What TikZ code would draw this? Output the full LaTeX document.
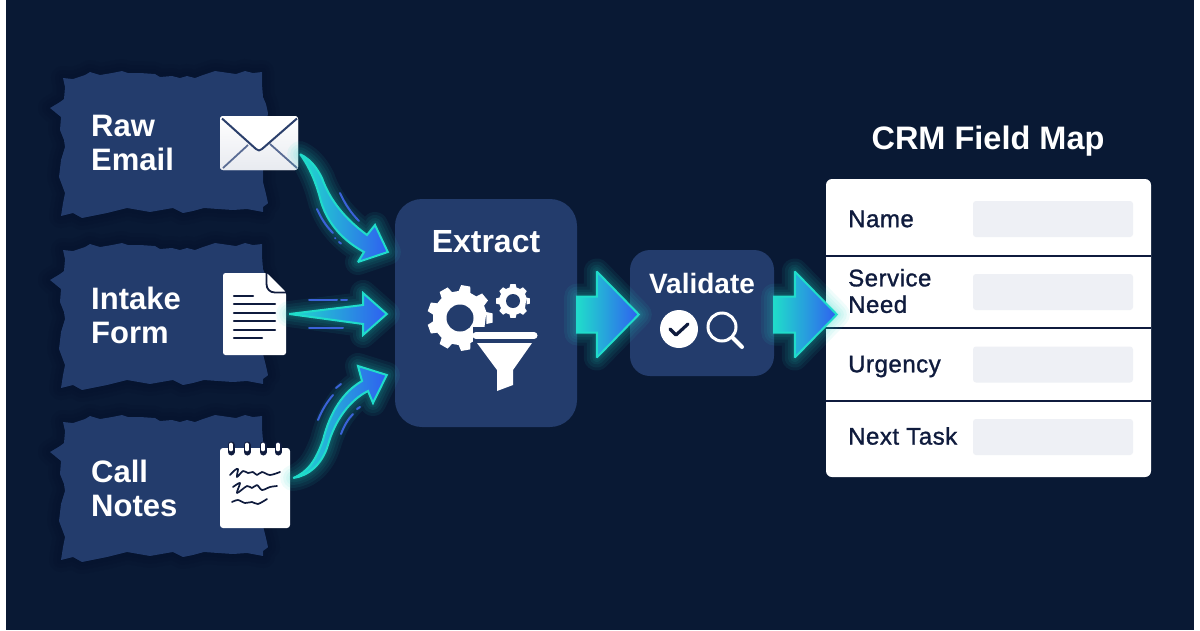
\documentclass[tikz,border=0pt]{standalone}
\usepackage{fontspec}
\setmainfont{Liberation Sans}
\newfontfamily\labelfont[FakeBold=1.2,LetterSpace=2.2]{Liberation Sans}
\usetikzlibrary{calc}
\definecolor{pagenavy}{HTML}{091934}
\definecolor{shadenavy}{HTML}{04102A}
\definecolor{panelblue}{HTML}{233C6C}
\definecolor{inknavy}{HTML}{0F1B3D}
\definecolor{flapline}{HTML}{2B3F6B}
\definecolor{foldline}{HTML}{5A6C94}
\definecolor{fieldgrey}{HTML}{EEF0F5}
\definecolor{flowteal}{HTML}{20DCCB}
\definecolor{flowblue}{HTML}{2F5FF0}
\definecolor{speedblue}{HTML}{3B62D8}
\tikzset{
  headtext/.style={text=white,font=\fontsize{31}{34}\selectfont\bfseries,align=left,anchor=west,inner sep=0pt},
  boxtext/.style={text=white,inner sep=0pt},
  stepbox/.style={fill=panelblue,inner sep=0pt},
  whiteicon/.style={fill=white,inner sep=0pt},
  rowtext/.style={text=inknavy,font=\labelfont\fontsize{24}{26.5}\selectfont,align=left,anchor=west,inner sep=0pt},
  fieldbox/.style={fill=fieldgrey,rounded corners=3pt,minimum width=160pt,minimum height=36pt,inner sep=0pt},
  speedline/.style={speedblue,line width=2pt,line cap=round},
  docline/.style={inknavy,line width=2.4pt,line cap=round},
  scribble/.style={inknavy,line width=1.7pt,line cap=round,line join=round},
  flowfill/.style={draw=flowteal,line width=2pt,line join=miter,miter limit=2.5,left color=flowteal,right color=flowblue},
  pics/tornpanel/.style={code={
    \foreach \w in {24,16,8}{
      \draw[shadenavy,opacity=.16,line width=\w pt,line join=round,fill=shadenavy] \tornoutline;
    }
    \fill[panelblue] \tornoutline;
  }},
}
% outline of the torn panel, top left one
\newcommand\tornoutline{(63,78) -- (73,79) -- (85,75) -- (90,72) -- (100,75) -- (112,73) -- (122,71) -- (128,73) -- (140,73) -- (155,74) -- (160,77) -- (172,76) -- (180,78) -- (187,76) -- (195,78) -- (203,75) -- (215,71) -- (222,72) -- (236,74) -- (245,71) -- (253,73) -- (262,72) -- (262,84) -- (263,97) -- (266,104) -- (268,113) -- (266,128) -- (268,150) -- (263,170) -- (263,182) -- (266,194) -- (268,203) -- (267,204) -- (263,207) -- (263,212) -- (247,209) -- (233,210) -- (218,209) -- (204,208) -- (193,211) -- (183,213) -- (173,208) -- (150,212) -- (127,208) -- (107,213) -- (82,218) -- (73,213) -- (61,216) -- (63,203) -- (65,193) -- (59,177) -- (61,160) -- (65,147) -- (64,140) -- (60,130) -- (61,117) -- (50,108) -- (60,102) -- (64,99) -- (65,87) -- cycle}
% glow, then filled shape
\newcommand\flowarrow[1]{
  \foreach \w in {26,20,14,9,5}{
    \draw[flowteal,opacity=.07,line width=\w pt,line join=round] #1;
  }
  \path[flowfill] #1;
}
\newcommand\blockarrow[2]{
  \flowarrow{($(#1)+(0,-18)$) -- ($(#2)+(-42,-18)$) -- ($(#2)+(-42,-43)$) -- (#2) -- ($(#2)+(-42,43)$) -- ($(#2)+(-42,18)$) -- ($(#1)+(0,18)$) -- cycle}
}
\newcommand\gearwheel[4]{
  \pgfmathsetmacro\gearstep{360/#4}
  \pgfmathsetmacro\gearroot{.82*#2}
  \fill[white,line join=round,shift={(#1)}] ({-.32*\gearstep}:\gearroot)
    \foreach \i [evaluate=\i as \a using \i*\gearstep] in {1,...,#4}{
      -- ({\a-.32*\gearstep}:\gearroot) -- ({\a-.2*\gearstep}:#2) -- ({\a+.2*\gearstep}:#2) -- ({\a+.32*\gearstep}:\gearroot)
    } -- cycle;
  \fill[panelblue,shift={(#1)}] (0,0) circle (#3);
}
\begin{document}
\begin{tikzpicture}[x=1pt,y=-1pt]
\useasboundingbox (0,0) rectangle (1200,630);
\fill[white] (0,0) rectangle (1200,630);
\fill[pagenavy] (5.5,0) rectangle (1194,630);

% source panels
\pic at (0,0) {tornpanel};
\pic at (0,172) {tornpanel};
\pic at (0,344) {tornpanel};
\node[headtext] (rawlabel) at (91,143) {Raw\\Email};
\node[headtext] (intakelabel) at (91,315.5) {Intake\\Form};
\node[headtext] (calllabel) at (91,488) {Call\\Notes};

% envelope
\node[whiteicon,top color=white,bottom color=white!86!foldline,rounded corners=3pt,minimum width=78pt,minimum height=54pt] (mailicon) at (259,143) {};
\draw[foldline,line width=1.8pt] (223,168) -- (248,145);
\draw[foldline,line width=1.8pt] (297,168) -- (270,144);
\draw[flapline,line width=2pt,fill=white,line join=round] (222,118.5) -- (256,149) .. controls (258,151) and (260,151) .. (262,149) -- (297,118.5);

% form sheet
\node[inner sep=0pt,minimum width=63pt,minimum height=82pt] (formicon) at (254.5,314) {};
\fill[white,rounded corners=2.5pt] (223,273) -- (267,273) -- (286,292) -- (286,355) -- (223,355) -- cycle;
\draw[inknavy,line width=1.8pt,line join=round] (266.5,273) -- (266.5,284) .. controls (266.5,289) and (270,292.5) .. (275,292.5) -- (286,292.5);
\fill[white] (268.5,275) -- (284,291) -- (275,291) .. controls (271,291) and (268.5,288) .. (268.5,284) -- cycle;
\draw[docline] (234,296) -- (253,296);
\foreach \y in {304,313,321,330}
  \draw[docline] (234,\y) -- (275,\y);
\draw[docline] (234,338) -- (262,338);

% notepad
\node[whiteicon,rounded corners=3pt,minimum width=70pt,minimum height=80pt] (notesicon) at (255,488) {};
\foreach \x in {231,247,263,278}{
  \draw[inknavy,line width=7pt,line cap=round] (\x,445) -- (\x,452);
  \draw[white,line width=3.6pt,line cap=round] (\x,444.5) -- (\x,449.5);
}
\draw[scribble] plot[smooth] coordinates {(230,475) (235,470) (238,469) (237,477) (243,471) (248,473) (253,472) (257,475) (262,472) (270,475) (280,472)};
\draw[scribble] plot[smooth] coordinates {(233,487) (240,483) (237,493) (247,486) (252,488) (257,485) (262,490) (270,487) (277,486)};
\draw[scribble] plot[smooth] coordinates {(232,502) (238,500) (245,503) (252,502) (258,504) (267,499)};

% steps
\node[stepbox,rounded corners=27pt,minimum width=182pt,minimum height=228pt] (extract) at (486,313) {};
\node[stepbox,rounded corners=20pt,minimum width=144pt,minimum height=126pt] (validate) at (702,313) {};
\node[boxtext,font=\fontsize{32}{34}\selectfont\bfseries] (extractlabel) at (486,242) {Extract};
\node[boxtext,font=\fontsize{28}{30}\selectfont\bfseries] (validatelabel) at (702,283) {Validate};

\gearwheel{460,318}{33}{13.5}{9}
\gearwheel{513,301}{17}{7}{8}
\fill[panelblue] (473,327) rectangle (540,395);
\draw[white,line width=7pt,line cap=round] (476,335.5) -- (534,335.5);
\fill[white,line join=round] (477,343) -- (532,343) -- (513,370) -- (513,385) -- (497,391) -- (497,370) -- cycle;

\node[whiteicon,circle,minimum size=38pt] (checkicon) at (679,329) {};
\draw[inknavy,line width=3.2pt,line cap=round,line join=round] (670,329) -- (676,335) -- (688,324);
\node[circle,draw=white,line width=3pt,minimum size=28pt,inner sep=0pt] (lensicon) at (722,327) {};
\draw[white,line width=4pt,line cap=round] (lensicon.south east) -- (742,347);

% field map
\node[boxtext,font=\fontsize{32.5}{34}\selectfont\bfseries] (maptitle) at (988,141.5) {CRM Field Map};
\node[fill=white,rounded corners=6pt,minimum width=325pt,minimum height=298pt,inner sep=0pt] (fieldcard) at (988.5,328) {};
\foreach \y in {256,328,401}
  \draw[inknavy,line width=1.6pt] (826,\y) -- (1151,\y);
\foreach \n/\t/\y/\l in {name/{Name}/219/219,service/{Service\\Need}/292/291,urgency/{Urgency}/364.5/366.5,task/{Next Task}/437/436}{
  \node[rowtext] (\n label) at (848,\l) {\t};
  \node[fieldbox] (\n field) at (1053,\y) {};
}

% arrows into extract
\coordinate (mailout) at ($(mailicon.south east)+(2,-16)$);
\coordinate (formout) at ($(formicon.east)+(3,0)$);
\coordinate (notesout) at ($(notesicon.east)+(3,-10)$);
\coordinate (tipmail) at ($(extract.west)+(-7,-61)$);
\coordinate (tipform) at ($(extract.west)+(-8,1)$);
\coordinate (tipnotes) at ($(extract.west)+(-8,62)$);
\flowarrow{(mailout) .. controls (312,160) and (318,170) .. (322,178) .. controls (328,195) and (340,215) .. (367,235) -- (375,225) -- (tipmail) -- (358,262) -- (364,252) .. controls (342,240) and (326,222) .. (320,198) .. controls (316,183) and (310,168) .. (mailout) -- cycle}
\flowarrow{(formout) -- (363,305) -- (363,293) -- (tipform) -- (363,335) -- (363,324) -- cycle}
\flowarrow{(notesout) .. controls (308,472) and (316,460) .. (323,440) .. controls (330,412) and (343,392) .. (362,381) -- (358,366) -- (tipnotes) -- (373,403) -- (368,391) .. controls (350,400) and (335,420) .. (328,445) .. controls (322,465) and (308,476) .. (notesout) -- cycle}

% arrows between steps
\coordinate (tipvalidate) at ($(validate.west)+(9,1.5)$);
\coordinate (tipcard) at ($(fieldcard.west)+(11,-13.5)$);
\blockarrow{extract.east |- tipvalidate}{tipvalidate}
\blockarrow{validate.east |- tipcard}{tipcard}

% speed marks
\draw[speedline] (340,193) .. controls (345,204) and (351,213) .. (359,221);
\draw[speedline] (317,209) .. controls (321,218) and (326,226) .. (333,233);
\draw[speedline] (335,238) -- (335.5,238.5);
\draw[speedline] (339,242) -- (341,243.5);
\draw[speedline] (309,300) -- (337,300);
\draw[speedline] (341,300) -- (347,300);
\draw[speedline] (309,328) -- (343,328);
\draw[speedline] (318,420) .. controls (322,410) and (327,402) .. (333,395);
\draw[speedline] (336,388) -- (341,384);
\draw[speedline] (341,434) .. controls (344,426) and (348,419) .. (353,414);
\draw[speedline] (357,409) -- (360,407);
\end{tikzpicture}
\end{document}
